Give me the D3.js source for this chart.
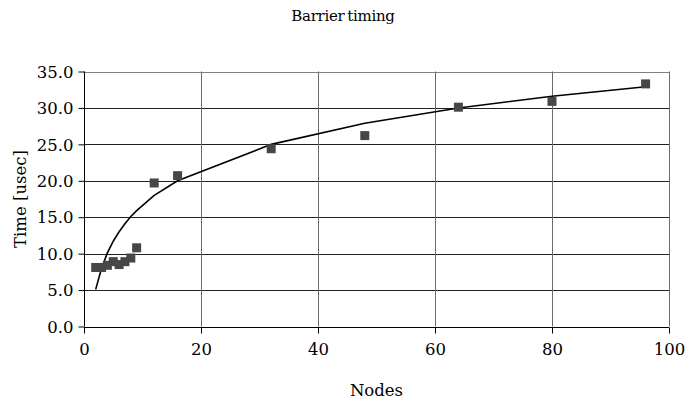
<!DOCTYPE html>
<html>
<head>
<meta charset="utf-8">
<script src="https://cdn.jsdelivr.net/npm/d3@7"></script>
<style>
  html, body { margin: 0; padding: 0; background: #fff; }
  svg { display: block; }
</style>
</head>
<body>
<svg id="chart" width="686" height="405"></svg>
<script>
// Data
const nodes = [2, 3, 4, 5, 6, 7, 8, 9, 12, 16, 32, 48, 64, 80, 96];
const timeUsec = [8.1, 8.1, 8.4, 8.9, 8.5, 8.9, 9.4, 10.8, 19.7, 20.7, 24.4, 26.2, 30.1, 30.9, 33.3];
const fitUsec = [5.1, 8.0, 10.1, 11.7, 13.0, 14.1, 15.1, 15.9, 18.0, 20.0, 25.0, 27.9, 30.0, 31.6, 32.9];
const xTicks = [0, 20, 40, 60, 80, 100];
const yTicks = [0, 5, 10, 15, 20, 25, 30, 35];
const title = "Barrier timing";
const xLabel = "Nodes";
const yLabel = "Time [usec]";

const FONT = "'DejaVu Serif', 'Liberation Serif', serif";
const svg = d3.select("#chart");
const pLeft = 84, pRight = 669, pTop = 71.5, pBottom = 326.5;

const x = d3.scaleLinear().domain([0, 100]).range([pLeft, pRight]);
const y = d3.scaleLinear().domain([0, 35]).range([pBottom, pTop]);

// Horizontal gridlines
svg.append("g").selectAll("line").data(yTicks.filter(d => d > 0)).join("line")
  .attr("x1", pLeft).attr("x2", pRight)
  .attr("y1", d => Math.round(y(d)) + 0.5).attr("y2", d => Math.round(y(d)) + 0.5)
  .attr("stroke", d => d === 35 ? "#808080" : "#222").attr("stroke-width", 1);

// Vertical gridlines
svg.append("g").selectAll("line").data(xTicks.filter(d => d > 0)).join("line")
  .attr("x1", d => Math.round(x(d)) + 0.5).attr("x2", d => Math.round(x(d)) + 0.5)
  .attr("y1", pTop).attr("y2", pBottom)
  .attr("stroke", "#6a6a6a").attr("stroke-width", 1);

// Axes
const xAxis = d3.axisBottom(x).tickValues(xTicks).tickSize(6).tickFormat(d3.format("d"));
const yAxis = d3.axisLeft(y).tickValues(yTicks).tickSize(6).tickFormat(d3.format(".1f"));

const gx = svg.append("g").attr("transform", `translate(0,${Math.round(pBottom) + 0.5})`).call(xAxis);
gx.attr("font-family", null).attr("font-size", null);
gx.select(".domain").attr("stroke", "#000").attr("d", `M${pLeft},0H${pRight}`);
gx.selectAll(".tick line").attr("stroke", "#000");
gx.selectAll(".tick text").style("font-family", FONT).style("font-size", "16.5px").attr("fill", "#000").attr("dy", "1.15em");

const gy = svg.append("g").attr("transform", `translate(${pLeft + 0.5},0)`).call(yAxis);
gy.attr("font-family", null).attr("font-size", null);
gy.select(".domain").attr("stroke", "#000").attr("d", `M0,${pTop}V${pBottom}`);
gy.selectAll(".tick line").attr("stroke", "#000");
gy.selectAll(".tick text").style("font-family", FONT).style("font-size", "16.5px").attr("fill", "#000").attr("x", -11).attr("dy", "0.35em");

// Fitted line
const line = d3.line().x((d, i) => x(nodes[i])).y(d => y(d));
svg.append("path").datum(fitUsec)
  .attr("d", line).attr("fill", "none").attr("stroke", "#000").attr("stroke-width", 1.6);

// Markers
const s = 9;
svg.append("g").selectAll("rect").data(timeUsec).join("rect")
  .attr("x", (d, i) => x(nodes[i]) - s / 2)
  .attr("y", d => y(d) - s / 2)
  .attr("width", s).attr("height", s)
  .attr("fill", "#474747");

// Titles
svg.append("text").attr("x", 343).attr("y", 21).attr("text-anchor", "middle")
  .style("font-family", FONT).style("font-size", "15px")
  .attr("letter-spacing", -0.3).attr("word-spacing", -1.5).text(title);
svg.append("text").attr("x", x(50)).attr("y", 396).attr("text-anchor", "middle")
  .style("font-family", FONT).style("font-size", "16.5px").text(xLabel);
svg.append("text").attr("transform", `translate(26,199) rotate(-90)`).attr("text-anchor", "middle")
  .style("font-family", FONT).style("font-size", "16.5px").text(yLabel);
</script>
</body>
</html>
